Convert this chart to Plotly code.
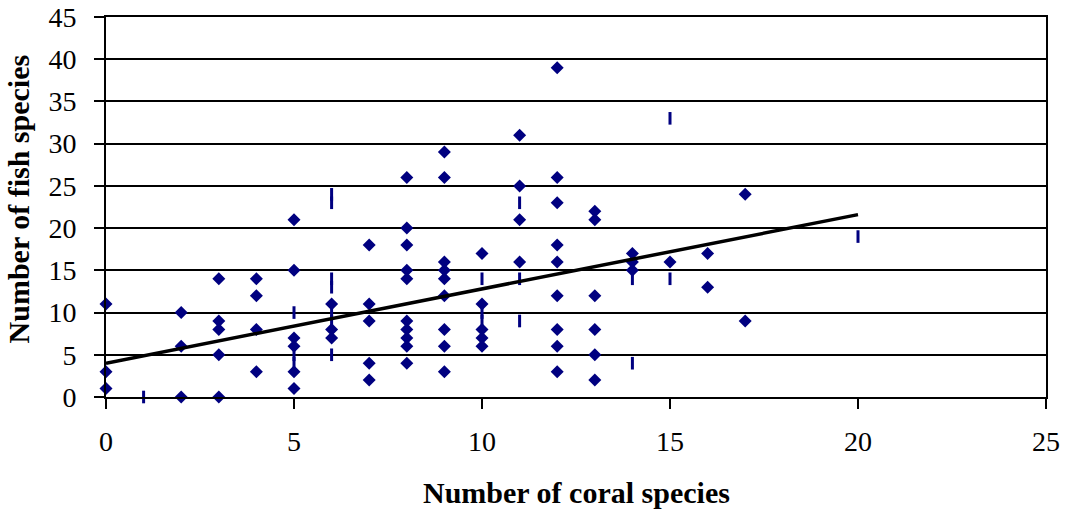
import plotly.graph_objects as go

# Fish species vs coral species per site (diamond-marked records)
coral_species = [0, 0, 0,
                 2, 2, 2,
                 3, 3, 3, 3, 3,
                 4, 4, 4, 4,
                 5, 5, 5, 5, 5, 5,
                 6, 6, 6,
                 7, 7, 7, 7, 7,
                 8, 8, 8, 8, 8, 8, 8, 8, 8, 8,
                 9, 9, 9, 9, 9, 9, 9, 9, 9,
                 10, 10, 10, 10, 10,
                 11, 11, 11, 11,
                 12, 12, 12, 12, 12, 12, 12, 12, 12,
                 13, 13, 13, 13, 13, 13,
                 14, 14, 14,
                 15,
                 16, 16,
                 17, 17]
fish_species = [11, 3, 1,
                10, 6, 0,
                14, 9, 8, 5, 0,
                14, 12, 8, 3,
                21, 15, 7, 6, 3, 1,
                11, 8, 7,
                18, 11, 9, 4, 2,
                26, 20, 18, 15, 14, 9, 8, 7, 6, 4,
                29, 26, 16, 15, 14, 12, 8, 6, 3,
                17, 11, 8, 7, 6,
                31, 25, 21, 16,
                39, 26, 23, 18, 16, 12, 8, 6, 3,
                22, 21, 12, 8, 5, 2,
                17, 16, 15,
                16,
                17, 13,
                24, 9]

# Records whose markers render as thin vertical dashes
coral_species_dash = [1, 5, 5, 5, 6, 6, 6, 6, 6, 6, 6, 10, 10, 10, 11, 11, 11, 14, 14, 15, 15, 20]
fish_species_dash = [0, 10, 5, 4, 24, 23, 14, 13, 10, 9, 5, 14, 10, 9, 23, 14, 9, 14, 4, 33, 14, 19]

# Linear trend line
trend_intercept = 4.0
trend_slope = 0.88
trend_x = [0, 20]
trend_y = [trend_intercept + trend_slope * x for x in trend_x]

x_ticks = [0, 5, 10, 15, 20, 25]
y_ticks = [0, 5, 10, 15, 20, 25, 30, 35, 40, 45]

NAVY = "#000080"
FONT = "Liberation Serif"

fig = go.Figure()

fig.add_trace(go.Scatter(
    x=coral_species_dash, y=fish_species_dash, mode="markers",
    marker=dict(symbol="line-ns", size=9, line=dict(color=NAVY, width=3)),
    cliponaxis=False, showlegend=False, hoverinfo="x+y",
))

fig.add_trace(go.Scatter(
    x=coral_species, y=fish_species, mode="markers",
    marker=dict(symbol="diamond", size=10, color=NAVY, line=dict(width=0)),
    cliponaxis=False, showlegend=False, hoverinfo="x+y",
))

fig.add_trace(go.Scatter(
    x=trend_x, y=trend_y, mode="lines",
    line=dict(color="black", width=3.5),
    cliponaxis=False, showlegend=False, hoverinfo="skip",
))

axis_common = dict(
    showline=True, linecolor="black", linewidth=2, mirror=True,
    ticks="outside", ticklen=10, tickwidth=2, tickcolor="black",
    zeroline=False, automargin=False,
    tickfont=dict(family=FONT, size=28, color="black"),
)

fig.update_xaxes(
    range=[0, 25], tickvals=x_ticks, ticktext=[str(v) for v in x_ticks],
    showgrid=False, ticklabelstandoff=8, **axis_common,
)
fig.update_yaxes(
    range=[0, 45], tickvals=y_ticks, ticktext=[str(v) for v in y_ticks],
    showgrid=True, gridcolor="black", gridwidth=1.5,
    ticklabelstandoff=12, **axis_common,
)

fig.add_annotation(
    text="<b>Number of coral species</b>", xref="paper", yref="paper",
    x=0.5, y=-0.2526, xanchor="center", yanchor="middle", showarrow=False,
    font=dict(family=FONT, size=30, color="black"),
)
fig.add_annotation(
    text="<b>Number of fish species</b>", xref="paper", yref="paper",
    x=-0.0936, y=0.52, xanchor="center", yanchor="middle", showarrow=False,
    textangle=-90, font=dict(family=FONT, size=30, color="black"),
)

fig.update_layout(
    width=1068, height=510,
    margin=dict(l=106, r=22, t=17, b=113, autoexpand=False),
    paper_bgcolor="white", plot_bgcolor="white",
)

fig.write_html("out.html")
